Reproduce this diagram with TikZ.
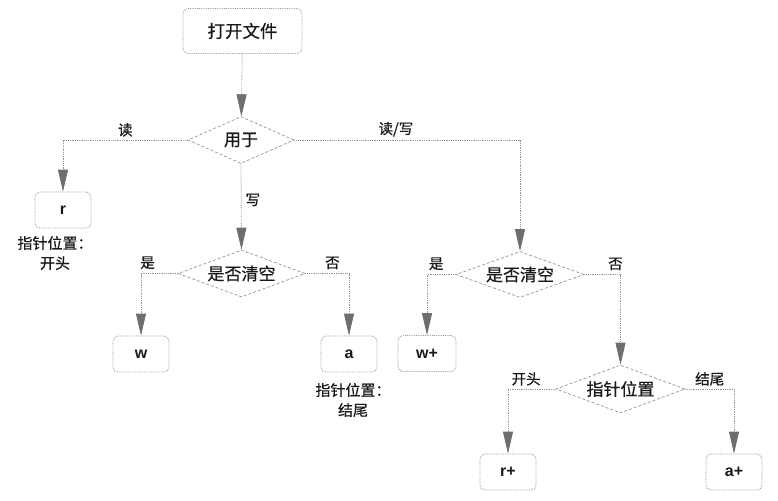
\documentclass[tikz,border=0pt]{standalone}
\usepackage{fontspec}
\setmainfont{Noto Sans CJK SC}[FakeBold=0.6]
\newfontfamily\latf{Liberation Sans Bold}
\usetikzlibrary{shapes.geometric,arrows.meta}
\definecolor{linegray}{RGB}{150,150,150}
\definecolor{tipgray}{RGB}{110,110,110}
\definecolor{txt}{RGB}{25,25,25}
\begin{document}
\begin{tikzpicture}[x=1pt,y=-1pt,
  box/.style={draw=linegray, densely dotted, line width=0.8pt, rounded corners=5pt,
    minimum width=56pt, minimum height=36pt, inner sep=0pt, text=txt,
    font=\latf\fontsize{16}{18}\selectfont},
  cbox/.style={box, font=\fontsize{17.5}{20}\selectfont},
  dia/.style={draw=linegray, dashed, dash pattern=on 3pt off 2pt, line width=0.7pt,
    diamond, aspect=2.4, inner sep=0pt, text=txt,
    font=\fontsize{17}{20}\selectfont},
  note/.style={align=center, inner sep=0pt, text=txt,
    font=\fontsize{15}{20}\selectfont},
  lab/.style={inner sep=1pt, text=txt, font=\fontsize{14.5}{16}\selectfont},
  conn/.style={draw=linegray, densely dotted, line width=0.8pt,
    -{Triangle[length=22pt,width=10pt,fill=tipgray,color=tipgray]}}
]
\useasboundingbox (0,0) rectangle (778,500);

\node[cbox, minimum width=119pt, minimum height=45pt] (open) at (242.5,31) {打开文件};
\node[dia, minimum width=106pt, minimum height=47pt] (use) at (241,140) {用于};
\node[box] (r) at (63,210) {r};
\node[note] (rnote) at (55,253) {指针位置：\\开头};
\node[dia, minimum width=127pt, minimum height=47pt] (clr1) at (241.5,273.5) {是否清空};
\node[box] (w) at (141,354) {w};
\node[box] (a) at (349,354) {a};
\node[note] (anote) at (353,400) {指针位置：\\结尾};
\node[dia, minimum width=128pt, minimum height=46pt] (clr2) at (520,274.5) {是否清空};
\node[box, minimum width=58pt] (wp) at (427,353.5) {w+};
\node[dia, minimum width=129pt, minimum height=48pt] (pos) at (620.5,389) {指针位置};
\node[box] (rp) at (508,472) {r+};
\node[box] (ap) at (734,472) {a+};

\draw[conn] (open) -- (use);
\draw[conn] (use.west) -| node[lab, pos=0.25, above=2pt] {读} (r.north);
\draw[conn] (use.south) -- node[lab, pos=0.42, right=3pt] {写} (clr1.north);
\draw[conn] (use.east) -| node[lab, pos=0.225, above=2pt] {读/写} (clr2.north);
\draw[conn] (clr1.west) -| node[lab, pos=0.41, above=3pt] {是} (w.north);
\draw[conn] (clr1.east) -| node[lab, pos=0.31, above=3pt] {否} (a.north);
\draw[conn] (clr2.west) -| node[lab, pos=0.34, above=3pt] {是} (wp.north);
\draw[conn] (clr2.east) -| node[lab, pos=0.43, above=3pt] {否} (pos.north);
\draw[conn] (pos.west) -| node[lab, pos=0.31, above=2pt] {开头} (rp.north);
\draw[conn] (pos.east) -| node[lab, pos=0.25, above=2pt] {结尾} (ap.north);
\end{tikzpicture}
\end{document}
